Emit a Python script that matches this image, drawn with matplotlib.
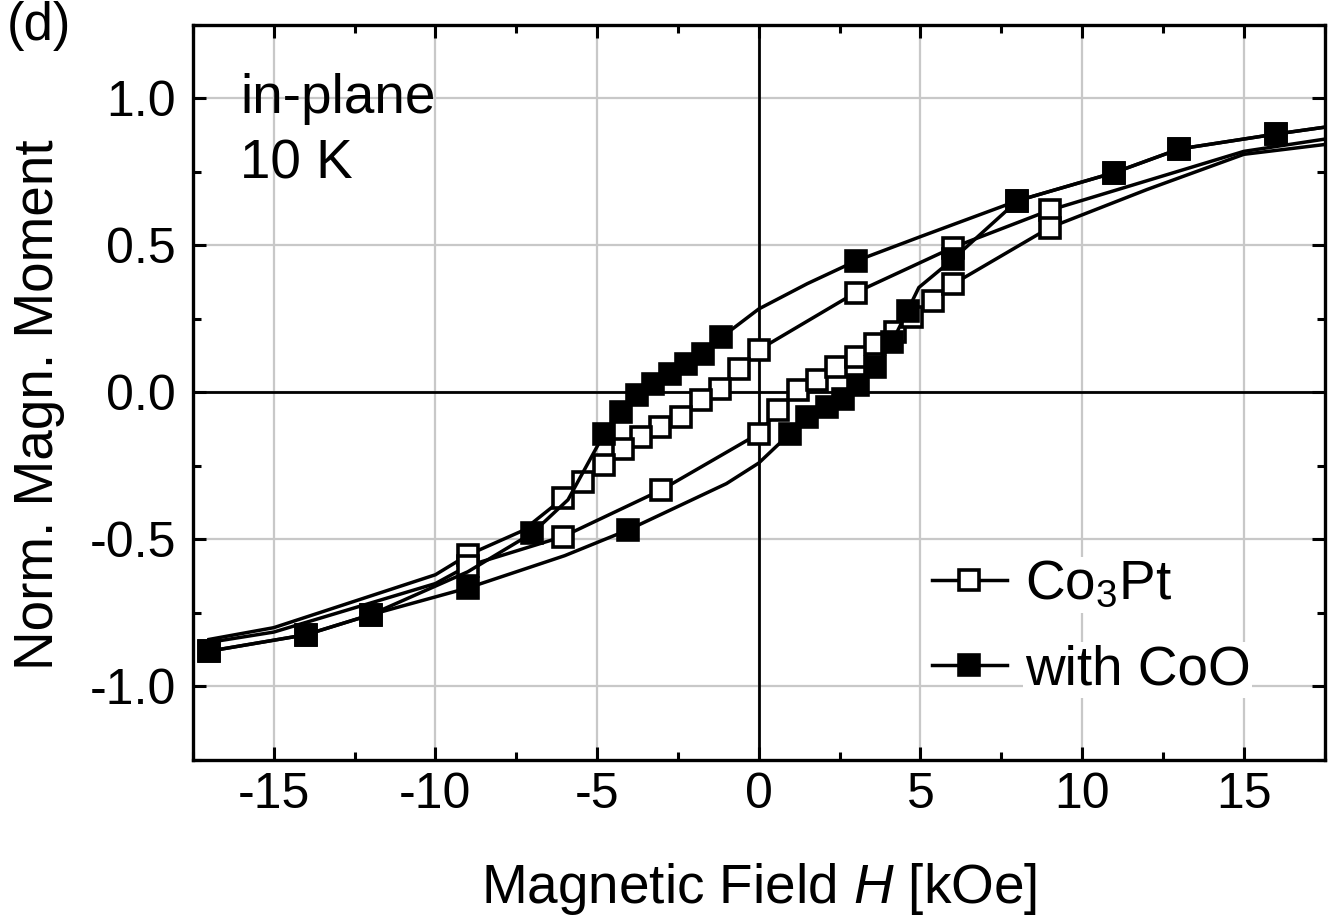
import matplotlib
matplotlib.use("Agg")
import matplotlib.pyplot as plt
from matplotlib.ticker import MultipleLocator

plt.rcParams["font.family"] = ["Liberation Sans", "DejaVu Sans"]
plt.rcParams["mathtext.fontset"] = "custom"
plt.rcParams["mathtext.rm"] = "Liberation Sans"
plt.rcParams["mathtext.it"] = "Liberation Sans:italic"
plt.rcParams["mathtext.default"] = "regular"

# Co3Pt loop (open squares)
co3pt_down_h = [18, 15, 12, 9, 6, 3, 0, -0.6, -1.2, -1.8, -2.4, -3.05, -3.65, -4.2, -4.8,
                -5.45, -6.05, -7.3, -9, -10, -15, -17]
co3pt_down_m = [0.87, 0.82, 0.72, 0.62, 0.493, 0.34, 0.145, 0.08, 0.012, -0.027, -0.084,
                -0.118, -0.151, -0.191, -0.247, -0.304, -0.36, -0.47, -0.553, -0.62, -0.80, -0.84]
co3pt_down_marks = [3, 4, 5, 6, 7, 8, 9, 10, 11, 12, 13, 14, 15, 16, 18]

co3pt_up_h = [-17, -15, -10, -9, -6.05, -3.02, 0, 0.6, 1.2, 1.8, 2.4, 3.0, 3.6, 4.2, 4.75,
              5.4, 6.0, 9, 12, 15, 18]
co3pt_up_m = [-0.85, -0.815, -0.65, -0.59, -0.49, -0.332, -0.14, -0.061, 0.007, 0.043, 0.086,
              0.122, 0.165, 0.204, 0.258, 0.312, 0.368, 0.561, 0.69, 0.81, 0.85]
co3pt_up_marks = [3, 4, 5, 6, 7, 8, 9, 10, 11, 12, 13, 14, 15, 16, 17]

# with CoO loop (filled squares)
coo_down_h = [18, 16, 13, 11, 8, 5, 3, 1.5, 0, -1.16, -1.73, -2.25, -2.76, -3.28, -3.77,
              -4.27, -4.78, -5.9, -7, -9, -12, -14, -17]
coo_down_m = [0.91, 0.879, 0.828, 0.748, 0.652, 0.53, 0.447, 0.37, 0.284, 0.187, 0.131,
              0.097, 0.063, 0.03, -0.01, -0.067, -0.14, -0.365, -0.478, -0.61, -0.756, -0.824, -0.88]
coo_down_marks = [1, 2, 3, 4, 6, 9, 10, 11, 12, 13, 14, 15, 16, 18, 20, 21, 22]

coo_up_h = [-17, -14, -12, -9, -6, -4.03, -1, 0, 0.96, 1.48, 2.1, 2.62, 3.08, 3.6, 4.12,
            4.6, 4.95, 6, 8, 11, 13, 16, 18]
coo_up_m = [-0.88, -0.824, -0.756, -0.665, -0.555, -0.467, -0.31, -0.24, -0.14, -0.084,
            -0.05, -0.021, 0.024, 0.086, 0.171, 0.278, 0.357, 0.453, 0.652, 0.748, 0.828, 0.879, 0.91]
coo_up_marks = [0, 1, 2, 3, 5, 8, 9, 10, 11, 12, 13, 14, 15, 17, 18, 19, 20, 21]

TICK_FS = 36
TEXT_FS = 39.5

fig = plt.figure(figsize=(13.3, 9.24), dpi=100)
ax = fig.add_axes([0.145, 0.1775, 0.851, 0.7955])

ax.grid(True, which="major", color="#c8c8c8", linewidth=1.6)
ax.set_axisbelow(True)
ax.axhline(0, color="black", linewidth=2, zorder=1.5)
ax.axvline(0, color="black", linewidth=2, zorder=1.5)

style = dict(color="black", linewidth=2.5, marker="s", markersize=15, markeredgewidth=2.6,
             markeredgecolor="black")
ax.plot(co3pt_down_h, co3pt_down_m, markevery=co3pt_down_marks, markerfacecolor="white", **style,
        label="Co$_3$Pt")
ax.plot(co3pt_up_h, co3pt_up_m, markevery=co3pt_up_marks, markerfacecolor="white", **style)
ax.plot(coo_down_h, coo_down_m, markevery=coo_down_marks, markerfacecolor="black", **style,
        label="with CoO")
ax.plot(coo_up_h, coo_up_m, markevery=coo_up_marks, markerfacecolor="black", **style)

ax.set_xlim(-17.5, 17.5)
ax.set_ylim(-1.25, 1.25)
ax.xaxis.set_minor_locator(MultipleLocator(2.5))
ax.yaxis.set_minor_locator(MultipleLocator(0.25))
ax.set_xticks([-15, -10, -5, 0, 5, 10, 15])
ax.set_xticklabels(["-15", "-10", "-5", "0", "5", "10", "15"])
ax.set_yticks([-1.0, -0.5, 0.0, 0.5, 1.0])
ax.set_yticklabels(["-1.0", "-0.5", "0.0", "0.5", "1.0"])

for spine in ax.spines.values():
    spine.set_linewidth(2.4)
ax.tick_params(which="both", direction="in", top=True, right=True, width=2.2)
ax.tick_params(which="major", length=9.5, labelsize=TICK_FS)
ax.tick_params(which="minor", length=5.5)
ax.tick_params(axis="x", which="major", pad=9)
ax.tick_params(axis="y", which="major", pad=12)

ax.set_xlabel("Magnetic Field $\\mathit{H}$ [kOe]", fontsize=TEXT_FS)
ax.xaxis.set_label_coords(0.5, -0.137)
ax.set_ylabel("Norm. Magn. Moment", fontsize=TEXT_FS)
ax.yaxis.set_label_coords(-0.113, 0.484)

ax.text(0.042, 0.935, "in-plane\n10 K", transform=ax.transAxes, fontsize=TEXT_FS, va="top",
        ha="left", linespacing=1.35)
fig.text(0.005, 0.999, "(d)", fontsize=38, va="top", ha="left")

leg = ax.legend(loc="lower left", bbox_to_anchor=(0.653, 0.087), frameon=False,
                fontsize=TEXT_FS, handlelength=1.36, handletextpad=0.33, labelspacing=0.6,
                borderpad=0, borderaxespad=0)
for h in leg.legend_handles:
    h.set_markersize(15)
for t in leg.get_texts():
    t.set_bbox(dict(facecolor="white", edgecolor="none", pad=1))

fig.savefig("out.png", dpi=100)
